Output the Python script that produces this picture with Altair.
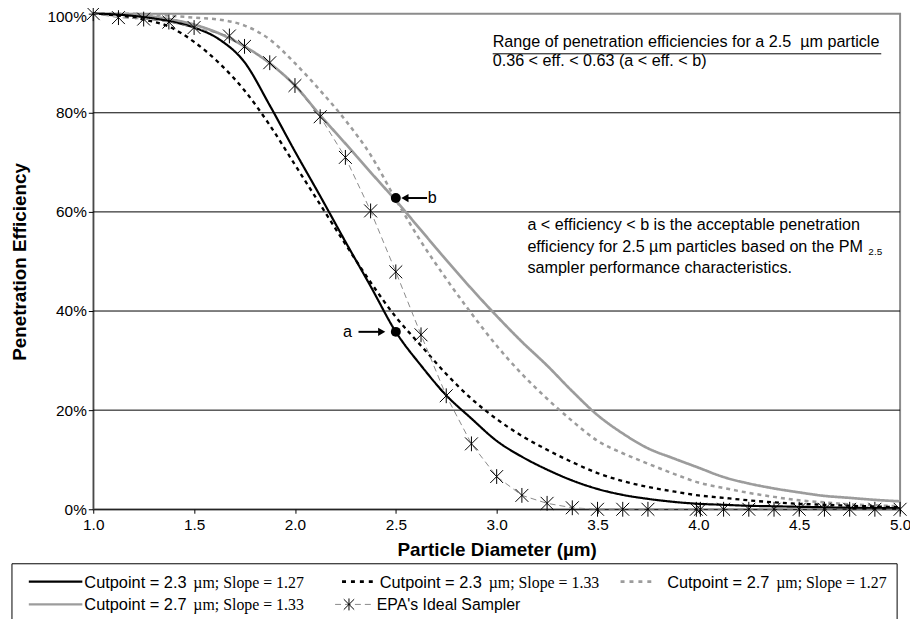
import altair as alt
import pandas as pd

# ---------------- data ----------------
diameters = [1.0, 1.125, 1.25, 1.375, 1.5, 1.625, 1.75, 1.875, 2.0, 2.125, 2.25, 2.375,
             2.5, 2.625, 2.75, 2.875, 3.0, 3.125, 3.25, 3.375, 3.5, 3.625, 3.75, 3.875,
             4.0, 4.125, 4.25, 4.375, 4.5, 4.625, 4.75, 4.875, 5.0]

# penetration efficiency, percent
cut23_slope127 = [100, 99.8, 99.3, 98.5, 97.2, 94.8, 90.2, 81.5, 72.2, 63.2, 54.0, 45.0,
                  35.8, 29.0, 23.0, 18.3, 13.8, 10.6, 8.0, 5.8, 4.1, 2.9, 2.1, 1.5,
                  1.1, 0.9, 0.7, 0.6, 0.5, 0.4, 0.3, 0.25, 0.2]
cut23_slope133 = [100, 99.6, 98.8, 97.4, 94.3, 90.0, 84.5, 77.5, 69.5, 61.5, 53.5, 45.8,
                  38.8, 33.0, 27.3, 22.3, 18.2, 14.8, 12.0, 9.5, 7.3, 5.7, 4.5, 3.6,
                  2.8, 2.3, 1.8, 1.4, 1.1, 0.9, 0.7, 0.55, 0.4]
cut27_slope127 = [100, 100, 99.9, 99.6, 99.2, 98.8, 97.6, 94.8, 90.0, 84.5, 78.5, 71.5,
                  62.5, 54.0, 46.5, 39.5, 33.0, 27.3, 22.3, 17.8, 13.8, 11.3, 9.2, 7.2,
                  5.4, 4.3, 3.3, 2.5, 1.8, 1.4, 1.0, 0.8, 0.6]
cut27_slope133 = [100, 99.9, 99.6, 98.9, 97.8, 96.0, 93.4, 90.0, 85.5, 79.5, 73.8, 68.0,
                  62.3, 56.3, 50.3, 44.5, 39.0, 33.8, 29.0, 23.8, 19.0, 15.3, 12.3, 10.3,
                  8.4, 6.5, 5.2, 4.2, 3.4, 2.7, 2.3, 1.9, 1.6]

epa_diameters = [1.0, 1.125, 1.25, 1.375, 1.5, 1.675, 1.75, 1.875, 2.0, 2.125, 2.25, 2.375,
                 2.5, 2.625, 2.75, 2.875, 3.0, 3.125, 3.25, 3.375, 3.5, 3.625, 3.75, 3.99,
                 4.01, 4.125, 4.25, 4.375, 4.5, 4.625, 4.75, 4.875, 5.0]
epa_efficiency = [100, 99.2, 98.9, 98.3, 97.2, 95.5, 93.4, 90.1, 85.5, 79.2, 71.0, 60.2,
                  47.9, 35.2, 22.9, 13.2, 6.6, 2.8, 1.2, 0.3, 0, 0, 0, 0,
                  0, 0, 0, 0, 0, 0, 0, 0, 0]

series_names = ["Cutpoint = 2.3 µm; Slope = 1.27", "Cutpoint = 2.3 µm; Slope = 1.33",
                "Cutpoint = 2.7 µm; Slope = 1.27", "Cutpoint = 2.7 µm; Slope = 1.33"]
epa_name = "EPA's Ideal Sampler"

marked_diameter = [2.5, 2.5]
marked_efficiency = [0.358, 0.628]
marked_label = ["a", "b"]

x_ticks = [1.0, 1.5, 2.0, 2.5, 3.0, 3.5, 4.0, 4.5, 5.0]
y_ticks = [0.0, 0.2, 0.4, 0.6, 0.8, 1.0]
grid_values = [0.2, 0.4, 0.6, 0.8]

# ---------------- tables ----------------
rows = []
for name, vals in zip(series_names, [cut23_slope127, cut23_slope133, cut27_slope127, cut27_slope133]):
    for d, v in zip(diameters, vals):
        rows.append({"series": name, "d": d, "eff": v / 100.0})
curves = pd.DataFrame(rows)
epa = pd.DataFrame({"d": epa_diameters, "eff": [v / 100.0 for v in epa_efficiency]})
marks_ab = pd.DataFrame({"d": marked_diameter, "eff": marked_efficiency, "label": marked_label})
grid = pd.DataFrame({"eff": grid_values})

SANS = "Liberation Sans, Arial, Helvetica, sans-serif"
SERIF = "Liberation Serif, Times New Roman, serif"
GRAY = "#9c9c9c"
STAR = "M-1,-1L1,1M-1,1L1,-1M0,-1.15L0,1.15"
FS = 16.3  # annotation font size

xscale = alt.Scale(domain=[1, 5], nice=False, zero=False)
yscale = alt.Scale(domain=[0, 1], nice=False, zero=False)

x_axis = alt.Axis(values=x_ticks, format=".1f", title="Particle Diameter (µm)", grid=False,
                  labelFont=SANS, labelFontSize=15.5, labelColor="black", labelPadding=4,
                  tickSize=4, tickColor="black", domainColor="black", domainWidth=1,
                  titleFont=SANS, titleFontSize=19, titleFontWeight="bold", titleColor="black",
                  titleY=41, titleBaseline="middle", labelFlush=False)
y_axis = alt.Axis(values=y_ticks, format=".0%", title="Penetration Efficiency", grid=False,
                  labelFont=SANS, labelFontSize=15.5, labelColor="black", labelPadding=2,
                  labelOffset={"condition": {"test": "datum.value >= 1", "value": 3}, "value": 0},
                  tickSize=5, tickColor="black", domainColor="#333333", domainWidth=1,
                  titleFont=SANS, titleFontSize=19, titleFontWeight="bold", titleColor="black",
                  titleX=-74, titleY=250, titleAlign="center", titleBaseline="middle",
                  titleAngle=270, labelFlush=False)


def X(field):
    return alt.X(field, type="quantitative", scale=xscale, axis=x_axis)


def Y(field):
    return alt.Y(field, type="quantitative", scale=yscale, axis=y_axis)


color_enc = alt.Color("series:N", scale=alt.Scale(domain=series_names, range=["#000000", "#000000", GRAY, GRAY]), legend=None)
dash_enc = alt.StrokeDash("series:N", scale=alt.Scale(domain=series_names, range=[[1, 0], [4, 4], [4, 4], [1, 0]]), legend=None)
width_enc = alt.StrokeWidth("series:N", scale=alt.Scale(domain=series_names, range=[2.2, 2.7, 2.7, 2.2]), legend=None)

gridlines = alt.Chart(grid).mark_rule(color="black", strokeWidth=1).encode(y=Y("eff"))

curve_base = alt.Chart(curves).mark_line(interpolate="monotone", strokeCap="butt").encode(
    x=X("d"), y=Y("eff"), color=color_enc, strokeDash=dash_enc, strokeWidth=width_enc, detail="series:N")
gray_curves = curve_base.transform_filter(alt.FieldOneOfPredicate(field="series", oneOf=series_names[2:]))
black_curves = curve_base.transform_filter(alt.FieldOneOfPredicate(field="series", oneOf=series_names[:2]))

epa_line = alt.Chart(epa).mark_line(color="#8a8a8a", strokeWidth=1, strokeDash=[6, 4]).encode(x=X("d"), y=Y("eff"))
epa_pts = alt.Chart(epa).mark_point(shape=STAR, size=169, filled=False, color="black", strokeWidth=1, opacity=1).encode(
    x=X("d"), y=Y("eff"))

dots = alt.Chart(marks_ab).mark_point(shape="circle", filled=True, color="black", size=100, opacity=1).encode(
    x=X("d"), y=Y("eff"))

# arrows towards the two marked points (offsets in axis units)
arrow_a = alt.Chart(marks_ab).transform_filter("datum.label == 'a'").transform_calculate(
    d0="datum.d - 0.185", d1="datum.d - 0.07").mark_rule(color="black", strokeWidth=2).encode(
    x=X("d0"), x2="d1:Q", y=Y("eff"))
head_a = alt.Chart(marks_ab).transform_filter("datum.label == 'a'").transform_calculate(
    dh="datum.d - 0.07").mark_point(shape="triangle-right", filled=True, color="black", size=70, opacity=1).encode(
    x=X("dh"), y=Y("eff"))
arrow_b = alt.Chart(marks_ab).transform_filter("datum.label == 'b'").transform_calculate(
    d0="datum.d + 0.155", d1="datum.d + 0.045").mark_rule(color="black", strokeWidth=2).encode(
    x=X("d0"), x2="d1:Q", y=Y("eff"))
head_b = alt.Chart(marks_ab).transform_filter("datum.label == 'b'").transform_calculate(
    dh="datum.d + 0.045").mark_point(shape="triangle-left", filled=True, color="black", size=70, opacity=1).encode(
    x=X("dh"), y=Y("eff"))
labels_ab = alt.Chart(marks_ab).transform_calculate(
    dl="datum.label == 'a' ? datum.d - 0.24 : datum.d + 0.18").mark_text(
    font=SANS, fontSize=FS, color="black", align="center", baseline="middle").encode(
    x=X("dl"), y=Y("eff"), text="label:N")

one = pd.DataFrame({"k": [0]})


def txt(s, x, y, size=FS, font=SANS, align="left", baseline="alphabetic", weight="normal"):
    return alt.Chart(one).mark_text(text=s, font=font, fontSize=size, align=align, baseline=baseline,
                                    color="black", fontWeight=weight).encode(x=alt.value(x), y=alt.value(y))


def hrule(x1, x2, y, color="black", width=1, dash=None):
    kw = dict(color=color, strokeWidth=width)
    if dash is not None:
        kw["strokeDash"] = dash
    return alt.Chart(one).mark_rule(**kw).encode(x=alt.value(x1), x2=alt.value(x2), y=alt.value(y))


annot = [
    txt("Range of penetration efficiencies for a 2.5\u00a0 µm particle", 403, 34),
    hrule(403, 795, 40.5),
    txt("0.36 < eff. < 0.63 (a < eff. < b)", 403, 53),
    txt("a < efficiency < b is the acceptable penetration", 438, 218),
    txt("efficiency for 2.5 µm particles based on the PM", 438, 240),
    txt("2.5", 782, 243, size=10),
    txt("sampler performance characteristics.", 438, 262),
]

# custom legend box below the plot
lg = []
box = alt.Chart(one).mark_rect(fillOpacity=0, stroke="black", strokeWidth=1).encode(
    x=alt.value(-82), x2=alt.value(811), y=alt.value(555), y2=alt.value(640))
lg.append(box)
r1, r2 = 573, 596
lg.append(hrule(-65, -11, r1, "black", 2.2))
lg.append(hrule(251, 282, r1, "black", 3, [4, 5]))
lg.append(hrule(532, 568, r1, GRAY, 3, [4, 5]))
lg.append(hrule(-65, -11, r2, GRAY, 2.2))
lg.append(hrule(244, 280, r2, "#8a8a8a", 1, [6, 4]))
lg.append(alt.Chart(one).mark_point(shape=STAR, size=110, filled=False, color="black", strokeWidth=1, opacity=1).encode(
    x=alt.value(258), y=alt.value(r2)))
LF = 16.5
for (x, y, cp, sl) in [(-9, r1, "2.3", "1.27"), (289, r1, "2.3", "1.33"), (579, r1, "2.7", "1.27"), (-9, r2, "2.7", "1.33")]:
    lg.append(txt("Cutpoint = " + cp, x, y + 6, size=LF))
    lg.append(txt("µm; Slope = " + sl, x + 110, y + 6, size=16, font=SERIF))
lg.append(txt(epa_name, 286, r2 + 6, size=16))

chart = alt.layer(
    gridlines, gray_curves, black_curves, epa_line, epa_pts, dots,
    arrow_a, head_a, arrow_b, head_b, labels_ab, *annot, *lg
).properties(
    width=814, height=500,
    autosize=alt.AutoSizeParams(type="none"),
    padding={"left": 86, "top": 3, "right": 10, "bottom": 108},
    background="white",
).configure_view(stroke="#8c8c8c", strokeWidth=2)

chart.save("out.html", embed_options={"renderer": "svg", "actions": False})
